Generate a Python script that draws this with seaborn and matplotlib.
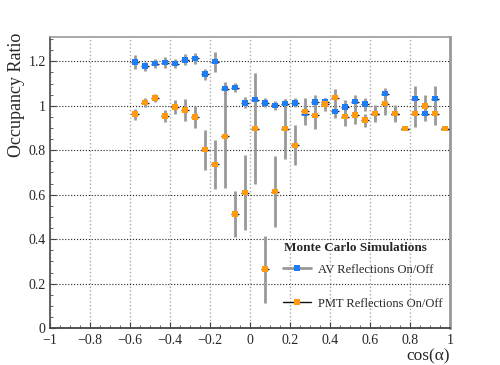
import numpy as np
import pandas as pd
import matplotlib
matplotlib.use("Agg")
import matplotlib.pyplot as plt
from matplotlib.lines import Line2D
from matplotlib.ticker import MultipleLocator
import seaborn as sns

sns.set_style("ticks")
plt.rcParams['font.family'] = ['Liberation Serif', 'DejaVu Serif']

# bin centres in cos(alpha)
cos_alpha = [-0.575, -0.525, -0.475, -0.425, -0.375, -0.325, -0.275, -0.225,
             -0.175, -0.125, -0.075, -0.025, 0.025, 0.075, 0.125, 0.175,
             0.225, 0.275, 0.325, 0.375, 0.425, 0.475, 0.525, 0.575,
             0.625, 0.675, 0.725, 0.775, 0.825, 0.875, 0.925, 0.975]

# AV reflections on/off
av_ratio = [1.197, 1.178, 1.190, 1.194, 1.190, 1.207, 1.213, 1.142,
            1.199, 1.077, 1.082, 1.013, 1.028, 1.013, 1.002, 1.010,
            1.013, 0.965, 1.017, 1.017, 0.975, 0.995, 1.019, 1.007,
            0.965, 1.055, 0.965, 0.897, 1.032, 0.965, 1.032, 0.897]
av_err = [0.03, 0.02, 0.02, 0.025, 0.02, 0.025, 0.025, 0.025,
          0.045, 0.03, 0.02, 0.025, 0.03, 0.02, 0.02, 0.02,
          0.02, 0.03, 0.03, 0.02, 0.03, 0.03, 0.03, 0.03,
          0.03, 0.025, 0.03, 0.0, 0.055, 0.035, 0.055, 0.0]

# PMT reflections on/off
pmt_ratio = [0.962, 1.014, 1.035, 0.954, 0.994, 0.980, 0.950, 0.803,
             0.736, 0.862, 0.514, 0.610, 0.897, 0.265, 0.614, 0.897,
             0.822, 0.975, 0.957, 1.007, 1.037, 0.951, 0.959, 0.935,
             0.965, 1.010, 0.965, 0.897, 0.965, 0.999, 0.965, 0.897]
pmt_err = [0.025, 0.02, 0.02, 0.025, 0.03, 0.05, 0.05, 0.09,
           0.11, 0.23, 0.105, 0.17, 0.25, 0.15, 0.16, 0.135,
           0.09, 0.06, 0.06, 0.03, 0.04, 0.04, 0.04, 0.03,
           0.04, 0.05, 0.04, 0.0, 0.06, 0.05, 0.05, 0.0]

series = ["AV Reflections On/Off", "PMT Reflections On/Off"]
blue = "#1f7cf2"
orange = "#ff9a10"

data = pd.DataFrame({
    "cos": cos_alpha * 2,
    "ratio": av_ratio + pmt_ratio,
    "err": av_err + pmt_err,
    "sample": [series[0]] * len(cos_alpha) + [series[1]] * len(cos_alpha),
})

fig = plt.figure(figsize=(5, 3.65), dpi=100)
ax = fig.add_axes([0.1, 0.101, 0.8, 0.798])

# error bars (grey vertical, dark horizontal bin width)
for name in series:
    d = data[data["sample"] == name]
    ax.errorbar(d["cos"], d["ratio"], yerr=d["err"], fmt="none",
                ecolor="#999999", elinewidth=2, capsize=0, zorder=2)
    ax.errorbar(d["cos"], d["ratio"], xerr=0.02, fmt="none",
                ecolor="#222222", elinewidth=1, capsize=0, zorder=3)

sns.scatterplot(data=data, x="cos", y="ratio", hue="sample",
                palette=[blue, orange], marker="s", s=16, linewidth=0,
                legend=False, ax=ax, zorder=4)

ax.set_xlim(-1, 1)
ax.set_ylim(0, 1.31)
ax.xaxis.set_minor_locator(MultipleLocator(0.05))
ax.yaxis.set_minor_locator(MultipleLocator(0.05))
ax.set_xticks(np.arange(-1, 1.01, 0.2))
ax.set_xticklabels(["\u22121", "\u22120.8", "\u22120.6", "\u22120.4", "\u22120.2",
                    "0", "0.2", "0.4", "0.6", "0.8", "1"])
ax.set_yticks(np.arange(0, 1.21, 0.2))
ax.set_yticklabels(["0", "0.2", "0.4", "0.6", "0.8", "1", "1.2"])
ax.tick_params(which="both", direction="in", top=False, right=False,
               labelsize=10, color="#444444")
ax.tick_params(axis="x", pad=4)
ax.tick_params(axis="y", pad=3)
ax.tick_params(which="major", length=4)
ax.tick_params(which="minor", length=2)

# ROOT-like grid: light vertical dots, dark horizontal dots
ax.grid(True, axis="x", which="major", linestyle=":", color="#aaaaaa", linewidth=1)
ax.grid(True, axis="y", which="major", linestyle=":", color="#222222", linewidth=0.8)

ax.spines["left"].set_color("#555555")
ax.spines["left"].set_linewidth(1.3)
ax.spines["bottom"].set_color("#444444")
ax.spines["bottom"].set_linewidth(1.3)
ax.spines["top"].set_color("#999999")
ax.spines["top"].set_linewidth(1.2)
ax.spines["right"].set_color("#999999")
ax.spines["right"].set_linewidth(2)

ax.set_xlabel("cos(\u03b1)", fontsize=12.5, loc="right", labelpad=1)
ax.set_ylabel("Occupancy Ratio", fontsize=13, loc="top")
ax.yaxis.set_label_coords(-0.063, 1.015)

handles = [
    Line2D([], [], color="#999999", lw=2, marker="s", markersize=4,
           markerfacecolor=blue, markeredgewidth=0),
    Line2D([], [], color="#111111", lw=1, marker="s", markersize=4,
           markerfacecolor=orange, markeredgewidth=0),
]
ax.legend(handles, series, loc="lower right", bbox_to_anchor=(1.01, 0.025),
          frameon=False, fontsize=9, handlelength=2.2, handletextpad=0.6,
          labelspacing=1.75)
ax.text(0.7625, 0.275, "Monte Carlo Simulations", transform=ax.transAxes,
        ha="center", va="center", fontsize=9.5, fontweight="bold")

fig.savefig("out.png", dpi=100)
